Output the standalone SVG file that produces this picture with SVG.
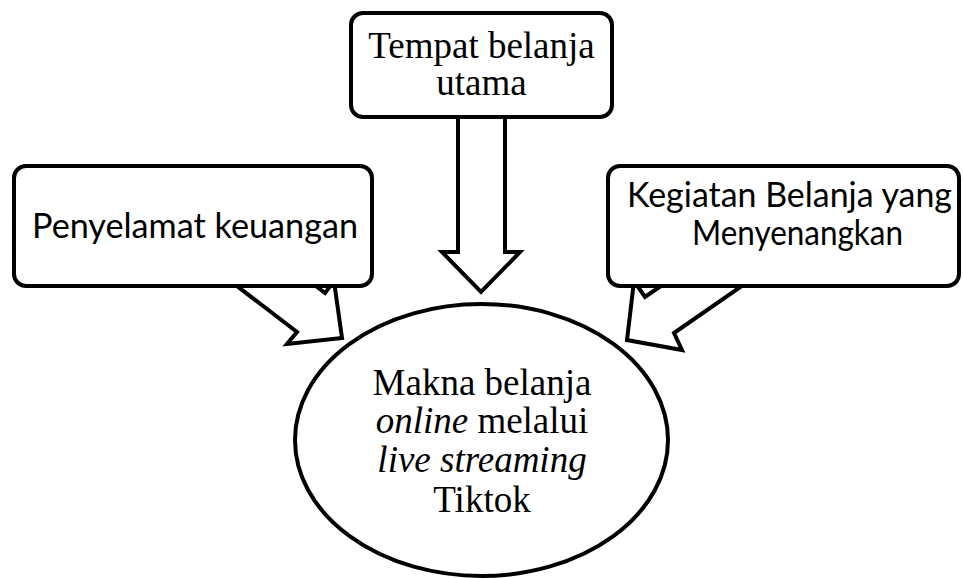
<svg xmlns="http://www.w3.org/2000/svg" width="963" height="578" viewBox="0 0 963 578">
<style>
.sh{fill:#fff;stroke:#000;stroke-width:4;stroke-linejoin:miter}
.box{fill:#fff;stroke:#000;stroke-width:4}
.serif{font-family:"Liberation Serif","Times New Roman",serif;font-size:37px;fill:#000;text-anchor:middle}
.sans{font-family:Lato,"Liberation Sans",sans-serif;font-size:34px;fill:#000;text-anchor:middle}
</style>
<rect width="963" height="578" fill="#fff"/>
<g id="connectors">
<polygon class="sh" points="458,110 458,252 442,252 481,292 520,252 505,252 505,110"/>
<polygon class="sh" points="216,270 297,332 287,344 342,338 334,281 325,293 295,270"/>
<polygon class="sh" points="765,270 674,333 682,350 627,340 634,281 645,297 684,270"/>
</g>
<g id="node-top">
<rect class="box" x="351" y="13" width="261" height="104" rx="12"/>
<text class="serif" x="481.5" y="58">Tempat belanja</text>
<text class="serif" x="481.5" y="95">utama</text>
</g>
<g id="node-left">
<rect class="box" x="14" y="166" width="358" height="120" rx="12"/>
<text class="sans" x="195" y="238" textLength="326" lengthAdjust="spacingAndGlyphs">Penyelamat keuangan</text>
</g>
<g id="node-right">
<rect class="box" x="608" y="166" width="351" height="120" rx="12"/>
<text class="sans" x="789.5" y="207" textLength="325" lengthAdjust="spacingAndGlyphs">Kegiatan Belanja yang</text>
<text class="sans" x="797.5" y="245" textLength="211" lengthAdjust="spacingAndGlyphs">Menyenangkan</text>
</g>
<g id="node-center">
<ellipse class="box" cx="481.5" cy="440" rx="186.5" ry="136"/>
<text class="serif" x="482" y="395">Makna belanja</text>
<text class="serif" x="482" y="433"><tspan font-style="italic">online</tspan> melalui</text>
<text class="serif" x="482" y="472" font-style="italic">live streaming</text>
<text class="serif" x="482" y="512">Tiktok</text>
</g>
</svg>
